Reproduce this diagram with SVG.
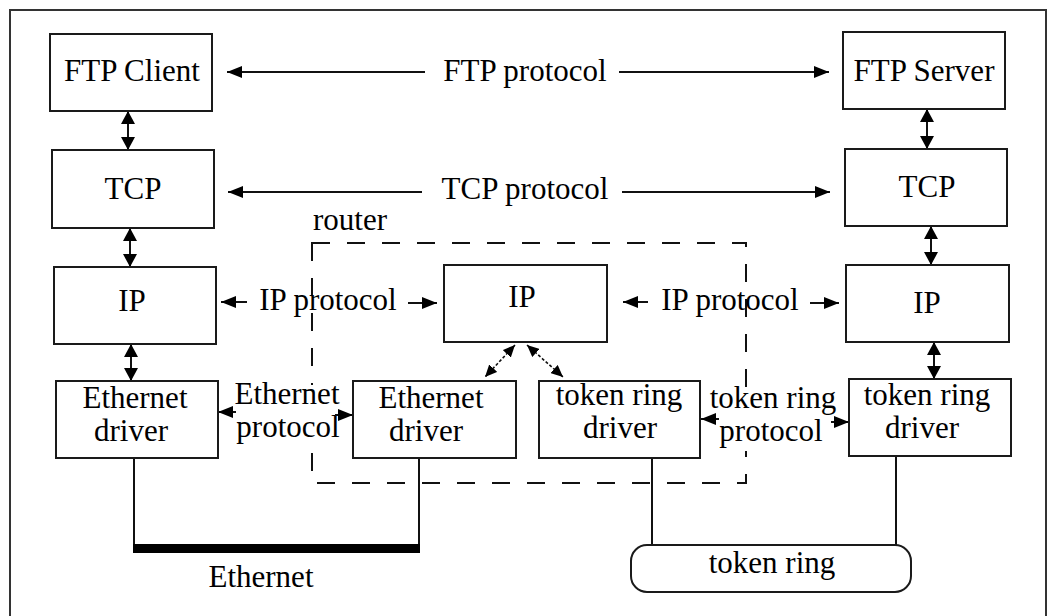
<svg xmlns="http://www.w3.org/2000/svg" width="1052" height="616" viewBox="0 0 1052 616">
<defs>
<style>
.box{fill:#fff;stroke:#1a1a1a;stroke-width:2}
.t{font-family:"Liberation Serif","Times New Roman","DejaVu Serif",serif;font-size:31px;fill:#000;text-anchor:middle}
.bg{fill:#fff;stroke:none}
.ln{fill:none;stroke:#111;stroke-width:2}
.ha{fill:none;stroke:#111;stroke-width:2;marker-start:url(#ah);marker-end:url(#ah)}
.va{fill:none;stroke:#111;stroke-width:2;marker-start:url(#av);marker-end:url(#av)}
.da{fill:none;stroke:#111;stroke-width:1.6;stroke-dasharray:3 2;marker-start:url(#ad);marker-end:url(#ad)}
</style>
<marker id="ah" markerUnits="userSpaceOnUse" markerWidth="16" markerHeight="12" refX="15" refY="6" orient="auto-start-reverse" viewBox="0 0 16 12"><path d="M0,0 L15,6 L0,12 z" fill="#000"/></marker>
<marker id="av" markerUnits="userSpaceOnUse" markerWidth="14" markerHeight="14" refX="13" refY="7" orient="auto-start-reverse" viewBox="0 0 14 14"><path d="M0,0 L13,7 L0,14 z" fill="#000"/></marker>
<marker id="ad" markerUnits="userSpaceOnUse" markerWidth="13" markerHeight="11" refX="12" refY="5.5" orient="auto-start-reverse" viewBox="0 0 13 11"><path d="M0,0 L12,5.5 L0,11 z" fill="#000"/></marker>
</defs>
<rect x="0" y="0" width="1052" height="616" fill="#fff"/>
<rect x="10" y="10" width="1036" height="620" fill="none" stroke="#333" stroke-width="2"/>

<g id="router">
<rect x="312" y="243" width="434" height="240" fill="none" stroke="#111" stroke-width="2" stroke-dasharray="18 17"/>
<text class="t" x="313" y="230" style="text-anchor:start">router</text>
</g>

<g id="ethernet-protocol"><rect class="bg" x="232" y="385" width="110" height="57"/><text class="t" x="287" y="404">Ethernet</text><text class="t" x="288" y="437">protocol</text></g>
<g id="token-ring-protocol"><rect class="bg" x="709" y="387" width="128" height="64"/><text class="t" x="773" y="408">token ring</text><text class="t" x="771" y="441">protocol</text></g>

<g id="connectors">
<path class="ha" d="M227,72 L425,72 M619,72 L829,72"/>
<path class="ha" d="M228,192 L422,192 M622,192 L830,192"/>
<path class="ha" d="M221,302 L247,302 M408,303 L437,303"/>
<path class="ha" d="M623,302 L648,302 M810,303 L839,303"/>
<path class="ha" d="M218,412 L236,412 M335,415 L353,415"/>
<path class="ha" d="M701,419 L719,419 M831,422 L849,422"/>
<path class="va" d="M128,111 L128,150"/>
<path class="va" d="M130,228 L130,267"/>
<path class="va" d="M131,344 L131,381"/>
<path class="va" d="M927,109 L927,149"/>
<path class="va" d="M931,226 L931,265"/>
<path class="va" d="M934,342 L934,379"/>
<path class="da" d="M515,345 L485,377"/>
<path class="da" d="M527,345 L563,377"/>
<path class="ln" d="M134,458 L134,547"/>
<path class="ln" d="M419,458 L419,547"/>
<path class="ln" d="M652,458 L652,545"/>
<path class="ln" d="M896,456 L896,545"/>
<rect x="133" y="544" width="287" height="9" fill="#000"/>
</g>

<g id="ftp-protocol"><text class="t" x="525" y="81">FTP protocol</text></g>
<g id="tcp-protocol"><text class="t" x="525" y="199">TCP protocol</text></g>
<g id="ip-protocol-1"><text class="t" x="328" y="310">IP protocol</text></g>
<g id="ip-protocol-2"><text class="t" x="730" y="310">IP protocol</text></g>

<g id="ftp-client"><rect class="box" x="50" y="34" width="162" height="77"/><text class="t" x="132" y="81">FTP Client</text></g>
<g id="tcp-left"><rect class="box" x="52" y="150" width="162" height="78"/><text class="t" x="133" y="199">TCP</text></g>
<g id="ip-left"><rect class="box" x="54" y="267" width="162" height="77"/><text class="t" x="132" y="311">IP</text></g>
<g id="eth-driver-left"><rect class="box" x="56" y="381" width="162" height="77"/><text class="t" x="135" y="408">Ethernet</text><text class="t" x="131" y="441">driver</text></g>

<g id="ftp-server"><rect class="box" x="843" y="32" width="162" height="77"/><text class="t" x="924" y="81">FTP Server</text></g>
<g id="tcp-right"><rect class="box" x="845" y="149" width="162" height="77"/><text class="t" x="927" y="197">TCP</text></g>
<g id="ip-right"><rect class="box" x="846" y="265" width="163" height="77"/><text class="t" x="927" y="313">IP</text></g>
<g id="tr-driver-right"><rect class="box" x="849" y="379" width="162" height="77"/><text class="t" x="927" y="405">token ring</text><text class="t" x="922" y="438">driver</text></g>

<g id="ip-router"><rect class="box" x="444" y="265" width="163" height="77"/><text class="t" x="522" y="307">IP</text></g>
<g id="eth-driver-router"><rect class="box" x="353" y="381" width="163" height="77"/><text class="t" x="431" y="408">Ethernet</text><text class="t" x="426" y="441">driver</text></g>
<g id="tr-driver-router"><rect class="box" x="539" y="381" width="161" height="77"/><text class="t" x="619" y="405">token ring</text><text class="t" x="620" y="438">driver</text></g>

<g id="ethernet"><text class="t" x="261" y="587">Ethernet</text></g>
<g id="token-ring"><rect class="box" x="631" y="545" width="280" height="47" rx="16"/><text class="t" x="772" y="573">token ring</text></g>
</svg>
